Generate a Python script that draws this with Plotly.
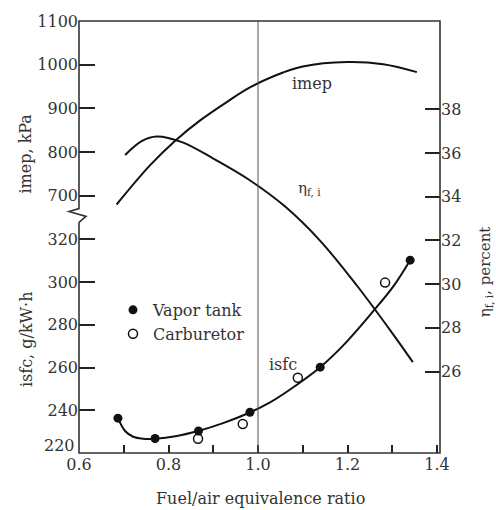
import plotly.graph_objects as go

# ---------------- data ----------------
phi_imep = [0.684, 0.759, 0.815, 0.870, 0.931, 0.982, 1.056, 1.100, 1.199, 1.280, 1.355]
imep_kpa = [680, 770, 826, 872, 915, 948, 982, 996, 1006, 1001, 983]

phi_eta = [0.703, 0.740, 0.774, 0.830, 0.900, 0.980, 1.060, 1.140, 1.220, 1.300, 1.346]
eta_pct = [35.91, 36.55, 36.76, 36.50, 35.75, 34.78, 33.56, 31.96, 29.96, 27.76, 26.43]

phi_isfc = [0.687, 0.703, 0.721, 0.743, 0.770, 0.819, 0.866, 0.922, 0.978, 1.027, 1.070, 1.139, 1.190, 1.257, 1.302, 1.340]
isfc_fit = [236.3, 230.3, 227.6, 226.7, 226.7, 228.0, 230.3, 234.0, 238.6, 243.7, 249.5, 260.2, 270.3, 286.3, 297.9, 310.3]

phi_vapor = [0.687, 0.770, 0.867, 0.982, 1.139, 1.340]
isfc_vapor = [236.3, 226.8, 230.3, 239.1, 260.2, 310.3]

phi_carb = [0.866, 0.966, 1.089, 1.284]
isfc_carb = [226.7, 233.6, 255.2, 299.8]

x_ticks = [0.6, 0.8, 1.0, 1.2, 1.4]
x_minor_step = 0.1
imep_ticks = [700, 800, 900, 1000, 1100]
isfc_ticks = [240, 260, 280, 300, 320]
isfc_bottom_label = "220"
eta_ticks = [26, 28, 30, 32, 34, 36, 38]
STOICH = 1.0

# ---------------- layout helpers ----------------
FONT = "DejaVu Serif"
L, R, T, B = 79, 440, 13, 453   # plot frame in pixels
W, H = 496, 510


def p(xp, yp):
    return (xp - L) / (R - L), (B - yp) / (B - T)


def path(points):
    s = ""
    for i, (a, b) in enumerate(points):
        x, y = p(a, b)
        s += ("M" if i == 0 else "L") + f"{x:.5f},{y:.5f} "
    return s.strip()


split = (B - 210) / (B - T)

fig = go.Figure()

line_style = dict(color="#111", width=2, shape="spline", smoothing=1.0)

fig.add_trace(go.Scatter(x=phi_imep, y=imep_kpa, mode="lines", line=line_style,
                         xaxis="x", yaxis="y2", showlegend=False, hoverinfo="skip"))
fig.add_trace(go.Scatter(x=phi_eta, y=eta_pct, mode="lines", line=line_style,
                         xaxis="x", yaxis="y3", showlegend=False, hoverinfo="skip"))
fig.add_trace(go.Scatter(x=phi_isfc, y=isfc_fit, mode="lines", line=line_style,
                         xaxis="x", yaxis="y", showlegend=False, hoverinfo="skip"))
fig.add_trace(go.Scatter(x=phi_vapor, y=isfc_vapor, mode="markers", name="Vapor tank",
                         marker=dict(symbol="circle", size=9, color="#111"),
                         xaxis="x", yaxis="y"))
fig.add_trace(go.Scatter(x=phi_carb, y=isfc_carb, mode="markers", name="Carburetor",
                         marker=dict(symbol="circle-open", size=9, color="#111",
                                     line=dict(width=1.5, color="#111")),
                         xaxis="x", yaxis="y"))

tickfont = dict(family=FONT, size=16, color="#333")
txtfont = dict(family=FONT, size=16, color="#333")

fig.update_layout(
    width=W, height=H,
    margin=dict(l=L, r=W - R, t=T, b=H - B, pad=0),
    paper_bgcolor="white", plot_bgcolor="rgba(0,0,0,0)",
    font=txtfont,
    xaxis=dict(domain=[0, 1], range=[0.6, 0.6 + (R - L) / 447.5], anchor="y",
               tickvals=x_ticks, tickformat=".1f", ticks="inside", ticklen=8,
               tickwidth=1.5, tickcolor="#222", showgrid=False, zeroline=False,
               showline=False, tickfont=tickfont,
               minor=dict(ticks="inside", dtick=x_minor_step, tick0=0.6, ticklen=8,
                          tickwidth=1.5, tickcolor="#222", showgrid=False)),
    yaxis=dict(domain=[0, split], range=[220, 220 + (B - 210) / 2.175], anchor="x",
               tickvals=isfc_ticks, ticks="inside", ticklen=16,
               tickwidth=1.5, tickcolor="#222", showgrid=False, zeroline=False,
               showline=False, tickfont=tickfont),
    yaxis2=dict(domain=[split, 1], range=[700 - (210 - 191) / 0.445, 1100], anchor="x",
                tickvals=imep_ticks, ticks="inside", ticklen=16, tickwidth=1.5,
                tickcolor="#222", showgrid=False, zeroline=False, showline=False,
                tickfont=tickfont),
    yaxis3=dict(domain=[0, 1], range=[26 - (B - 370) / 22.25, 38 + (103 - T) / 22.25],
                anchor="x", side="right", tickvals=eta_ticks, ticks="inside",
                ticklen=15, tickwidth=1.5, tickcolor="#222", showgrid=False,
                zeroline=False, showline=False, tickfont=tickfont),
    legend=dict(x=p(113, 0)[0], y=p(0, 290)[1], xanchor="left", yanchor="top",
                bgcolor="rgba(0,0,0,0)", font=dict(family=FONT, size=16, color="#333"),
                itemwidth=30, tracegroupgap=0),
    shapes=[
        dict(type="line", xref="x", yref="paper", x0=STOICH, x1=STOICH, y0=0, y1=1,
             line=dict(color="#555", width=1)),
        dict(type="path", xref="paper", yref="paper",
             path=path([(79, 218), (79, 453), (440, 453), (440, 13), (79, 13), (79, 204),
                        (69, 207), (86, 212), (79, 218)]),
             line=dict(color="#333", width=1.6)),
    ],
    annotations=[
        dict(x=1.121, y=956, xref="x", yref="y2", text="imep", showarrow=False,
             font=txtfont),
        dict(x=1.116, y=34.4, xref="x", yref="y3", text="η<sub>f, i</sub>", showarrow=False,
             font=dict(family=FONT, size=15, color="#333")),
        dict(x=1.056, y=261.6, xref="x", yref="y", text="isfc", showarrow=False,
             font=txtfont),
        dict(x=p(77, 0)[0], y=p(0, 445)[1], xref="paper", yref="paper",
             text=isfc_bottom_label, xanchor="right", yanchor="middle", showarrow=False,
             font=tickfont),
        dict(x=p(26, 0)[0], y=p(0, 148)[1], xref="paper", yref="paper", text="imep, kPa",
             textangle=-90, xanchor="center", yanchor="middle", showarrow=False,
             font=txtfont),
        dict(x=p(26, 0)[0], y=p(0, 337)[1], xref="paper", yref="paper", text="isfc, g/kW·h",
             textangle=-90, xanchor="center", yanchor="middle", showarrow=False,
             font=txtfont),
        dict(x=p(485, 0)[0], y=p(0, 268)[1], xref="paper", yref="paper",
             text="η<sub>f, i</sub>, percent", textangle=-90, xanchor="center",
             yanchor="middle", showarrow=False, font=dict(family=FONT, size=15, color="#333")),
        dict(x=p(260, 0)[0], y=p(0, 499)[1], xref="paper", yref="paper",
             text="Fuel/air equivalence ratio", xanchor="center", yanchor="middle",
             showarrow=False, font=txtfont),
    ],
)

fig.write_html("out.html")
